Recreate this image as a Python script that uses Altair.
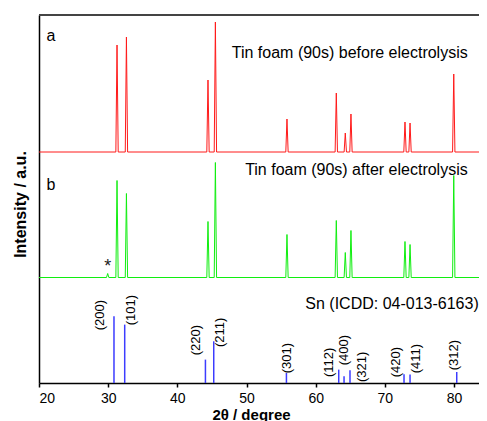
import altair as alt
import pandas as pd

# ---- data ----
peak_2theta = [31.28, 32.64, 44.43, 45.50, 55.85, 62.98, 64.28, 65.10, 72.91, 73.64, 79.96]
before_int = [107, 115, 72, 130, 33, 59, 19, 38, 30, 29, 78]
after_int = [97, 84, 56, 115, 43, 57, 25, 47, 36, 33, 102]
impurity_2theta = [29.93]
impurity_int = [4]
before_offset = 231
after_offset = 105.5

ref_2theta = [30.84, 32.39, 44.06, 45.26, 55.77, 63.33, 64.10, 64.96, 72.77, 73.64, 80.39]
ref_int = [66.7, 58.4, 23.4, 41.7, 10.0, 13.4, 6.7, 12.7, 8.7, 8.4, 11.0]
ref_hkl = ["(200)", "(101)", "(220)", "(211)", "(301)", "(112)", "(400)", "(321)", "(420)", "(411)", "(312)"]
hkl_label_x = [28.78, 33.36, 42.76, 46.12, 55.91, 61.93, 64.09, 66.75, 71.57, 74.46, 79.95]
hkl_label_y = [52.7, 57.7, 27.7, 36.0, 9.7, 6.0, 17.7, 1.0, 5.7, 9.7, 12.7]

notes = ["a", "b", "Tin foam (90s) before electrolysis", "Tin foam (90s) after electrolysis",
         "Sn (ICDD: 04-013-6163)"]
notes_x = [21.07, 21.07, 81.98, 81.98, 83.57]
notes_y = [346.7, 197.7, 329.7, 212.7, 78.7]
notes_align = ["left", "left", "right", "right", "right"]

X_MIN, X_MAX = 20, 83.61
Y_MAX = 368
HALF_W = 0.17
FONT = "Liberation Sans"


def trace(pos, hts, base, name):
    pts = [(X_MIN, base)]
    for p, h in sorted(zip(pos, hts)):
        pts += [(p - HALF_W, base), (p, base + h), (p + HALF_W, base)]
    pts.append((X_MAX, base))
    return pd.DataFrame({"x": [a for a, _ in pts], "y": [b for _, b in pts],
                         "order": list(range(len(pts))), "s": name})


df_a = trace(peak_2theta, before_int, before_offset, "a")
df_b = trace(peak_2theta + impurity_2theta, after_int + impurity_int, after_offset, "b")
df_ref = pd.DataFrame({"x": ref_2theta, "h": ref_int, "base": [0] * len(ref_int)})
df_lab = pd.DataFrame({"x": hkl_label_x, "y": hkl_label_y, "t": ref_hkl})
df_notes = pd.DataFrame({"x": notes_x, "y": notes_y, "t": notes, "al": notes_align})
df_star = pd.DataFrame({"x": impurity_2theta, "y": [after_offset + 11], "t": ["*"]})
df_top = pd.DataFrame({"x": [X_MIN], "x2": [X_MAX], "y": [Y_MAX]})

xscale = alt.Scale(domain=[X_MIN, X_MAX], nice=False, zero=False)
yscale = alt.Scale(domain=[0, Y_MAX], nice=False, zero=True)

xaxis = alt.Axis(values=list(range(20, 85, 5)),
                 labelExpr="datum.value % 10 == 0 ? datum.label : ''",
                 title="2θ / degree", grid=False, tickSize=4, labelPadding=4,
                 titleX=212, titleY=36, titleBaseline="alphabetic", titleAlign="center",
                 titleFontSize=15,
                 domainColor="black", tickColor="black", domainWidth=1.5, tickWidth=1.5)
yaxis = alt.Axis(title="Intensity / a.u.", labels=False, ticks=False, grid=False,
                 titleX=-19, titleY=189, titleAngle=270, titleBaseline="middle",
                 titleAlign="center", titleFontSize=16,
                 domainColor="black", domainWidth=1.5)

line_a = alt.Chart(df_a).mark_line(color="#ff1a1a", strokeWidth=1, clip=True).encode(
    x=alt.X("x:Q", scale=xscale, axis=xaxis),
    y=alt.Y("y:Q", scale=yscale, axis=yaxis),
    order="order:Q")
line_b = alt.Chart(df_b).mark_line(color="#10ee10", strokeWidth=1, clip=True).encode(
    x=alt.X("x:Q", scale=xscale), y=alt.Y("y:Q", scale=yscale), order="order:Q")
sticks = alt.Chart(df_ref).mark_rule(color="#3c3cff", strokeWidth=1.5).encode(
    x=alt.X("x:Q", scale=xscale), y=alt.Y("base:Q", scale=yscale), y2="h:Q")
hkl = alt.Chart(df_lab).mark_text(angle=270, align="left", baseline="middle",
                                  font=FONT, fontSize=13, color="black").encode(
    x=alt.X("x:Q", scale=xscale), y=alt.Y("y:Q", scale=yscale), text="t:N")
note_l = alt.Chart(df_notes[df_notes.al == "left"]).mark_text(
    align="left", baseline="middle", font=FONT, fontSize=16, color="black").encode(
    x=alt.X("x:Q", scale=xscale), y=alt.Y("y:Q", scale=yscale), text="t:N")
note_r = alt.Chart(df_notes[df_notes.al == "right"]).mark_text(
    align="right", baseline="middle", font=FONT, fontSize=16, color="black").encode(
    x=alt.X("x:Q", scale=xscale), y=alt.Y("y:Q", scale=yscale), text="t:N")
star = alt.Chart(df_star).mark_text(align="center", baseline="middle", font=FONT,
                                    fontSize=18, color="#222").encode(
    x=alt.X("x:Q", scale=xscale), y=alt.Y("y:Q", scale=yscale), text="t:N")
top_line = alt.Chart(df_top).mark_rule(color="#444", strokeWidth=2).encode(
    x=alt.X("x:Q", scale=xscale), x2="x2:Q", y=alt.Y("y:Q", scale=yscale))

chart = alt.layer(line_a, line_b, sticks, hkl, note_l, note_r, star, top_line).properties(
    width=440, height=Y_MAX,
    autosize=alt.AutoSizeParams(type="none"),
    padding={"left": 31, "top": 7, "right": 0, "bottom": 39},
).configure_view(stroke=None).configure_axis(
    labelFont=FONT, labelFontSize=14, labelColor="black",
    titleFont=FONT, titleFontWeight="bold", titleColor="black")

chart.save("out.html", embed_options={"renderer": "svg", "actions": False})
